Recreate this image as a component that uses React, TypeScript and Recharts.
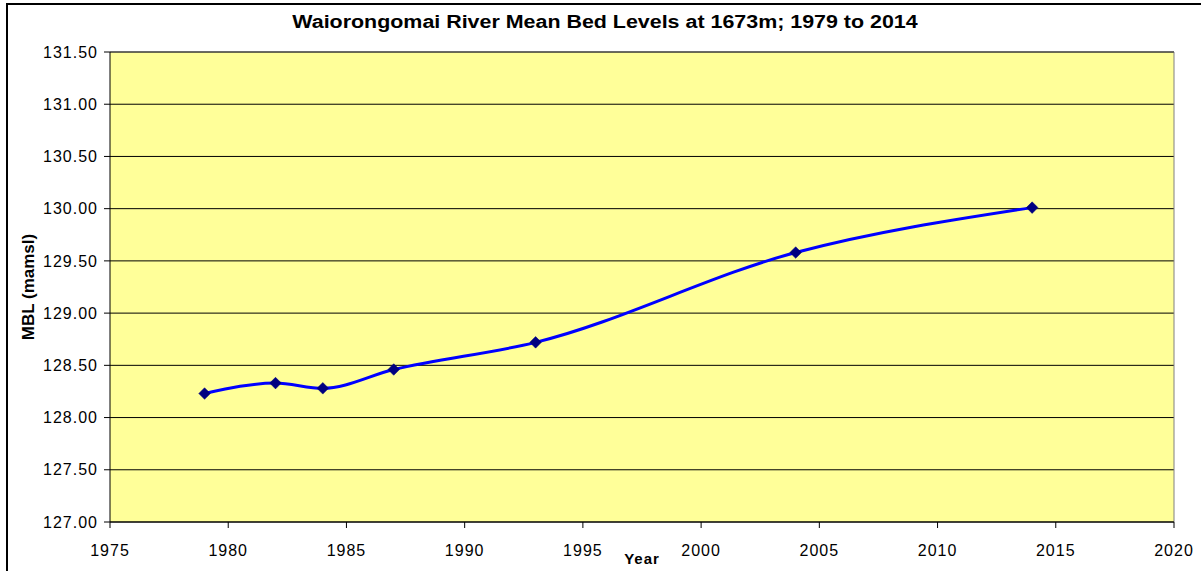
import React from 'react';
import {
  CartesianGrid,
  Line,
  LineChart,
  ReferenceLine,
  XAxis,
  YAxis,
} from 'recharts';

const years = [1979, 1982, 1984, 1987, 1993, 2004, 2014];
const mbl = [128.23, 128.33, 128.28, 128.46, 128.72, 129.58, 130.01];
const xTicks = [1975, 1980, 1985, 1990, 1995, 2000, 2005, 2010, 2015, 2020];
const yTicks = [127, 127.5, 128, 128.5, 129, 129.5, 130, 130.5, 131, 131.5];

const FONT = '"Liberation Sans", Arial, sans-serif';

const data = years.map((y, i) => ({ year: y, mbl: mbl[i] }));

function Diamond(props: any) {
  const { cx, cy } = props;
  if (cx == null || cy == null) return null;
  const r = 5.8;
  return (
    <polygon
      points={`${cx},${cy - r} ${cx + r},${cy} ${cx},${cy + r} ${cx - r},${cy}`}
      fill="#000080"
      stroke="#000080"
      strokeWidth={0.5}
    />
  );
}

export default function App() {
  return (
    <div
      style={{
        position: 'absolute',
        left: 0,
        top: 0,
        width: 1201,
        height: 571,
        overflow: 'hidden',
        background: '#fff',
        fontFamily: FONT,
      }}
    >
      <div
        style={{
          position: 'absolute',
          left: 6,
          top: 3,
          width: 1220,
          height: 620,
          border: '2px solid #000',
        }}
      />
      <div
        style={{
          position: 'absolute',
          left: 0,
          top: 12,
          width: 1210,
          textAlign: 'center',
          fontSize: 18,
          fontWeight: 'bold',
          transform: 'scaleX(1.19)',
          transformOrigin: '605px 0',
          whiteSpace: 'nowrap',
        }}
      >
        Waiorongomai River Mean Bed Levels at 1673m; 1979 to 2014
      </div>
      <div style={{ position: 'absolute', left: 0, top: 0 }}>
        <LineChart
          width={1201}
          height={571}
          data={data}
          margin={{ top: 52, right: 27, bottom: 0, left: 6 }}
        >
          <CartesianGrid
            vertical={false}
            stroke="#000"
            strokeOpacity={1}
            fill="#FFFF99"
            fillOpacity={1}
          />
          <XAxis
            dataKey="year"
            type="number"
            domain={[1975, 2020]}
            ticks={xTicks}
            interval={0}
            height={49}
            tickSize={6}
            tickMargin={17}
            axisLine={{ stroke: '#000' }}
            tickLine={{ stroke: '#000' }}
            tick={{ fill: '#000', fontSize: 16, fontFamily: FONT, letterSpacing: 1 }}
            label={{
              content: (p: any) => {
                const vb = p.viewBox;
                return (
                  <text
                    x={vb.x + vb.width / 2}
                    y={564}
                    textAnchor="middle"
                    fontSize={15}
                    fontWeight="bold"
                    fontFamily={FONT}
                    letterSpacing={1}
                    fill="#000"
                  >
                    Year
                  </text>
                );
              },
            }}
          />
          <YAxis
            type="number"
            domain={[127, 131.5]}
            ticks={yTicks}
            interval={0}
            width={104}
            tickSize={6}
            tickMargin={6}
            tickFormatter={(v: number) => v.toFixed(2)}
            axisLine={{ stroke: '#000' }}
            tickLine={{ stroke: '#000' }}
            tick={{ fill: '#000', fontSize: 16, fontFamily: FONT, letterSpacing: 1 }}
            label={{
              content: (p: any) => {
                const vb = p.viewBox;
                const cx = vb.x + 22;
                const cy = vb.y + vb.height / 2;
                return (
                  <text
                    x={cx}
                    y={cy}
                    transform={`rotate(-90, ${cx}, ${cy})`}
                    textAnchor="middle"
                    dominantBaseline="central"
                    fontSize={17}
                    fontWeight="bold"
                    fontFamily={FONT}
                    fill="#000"
                  >
                    MBL (mamsl)
                  </text>
                );
              },
            }}
          />
          <ReferenceLine x={2020} stroke="#808080" />
          <ReferenceLine y={131.5} stroke="#555" />
          <Line
            type="monotone"
            dataKey="mbl"
            stroke="#0000FF"
            strokeWidth={3}
            dot={<Diamond />}
            activeDot={false}
            isAnimationActive={false}
          />
        </LineChart>
      </div>
    </div>
  );
}
